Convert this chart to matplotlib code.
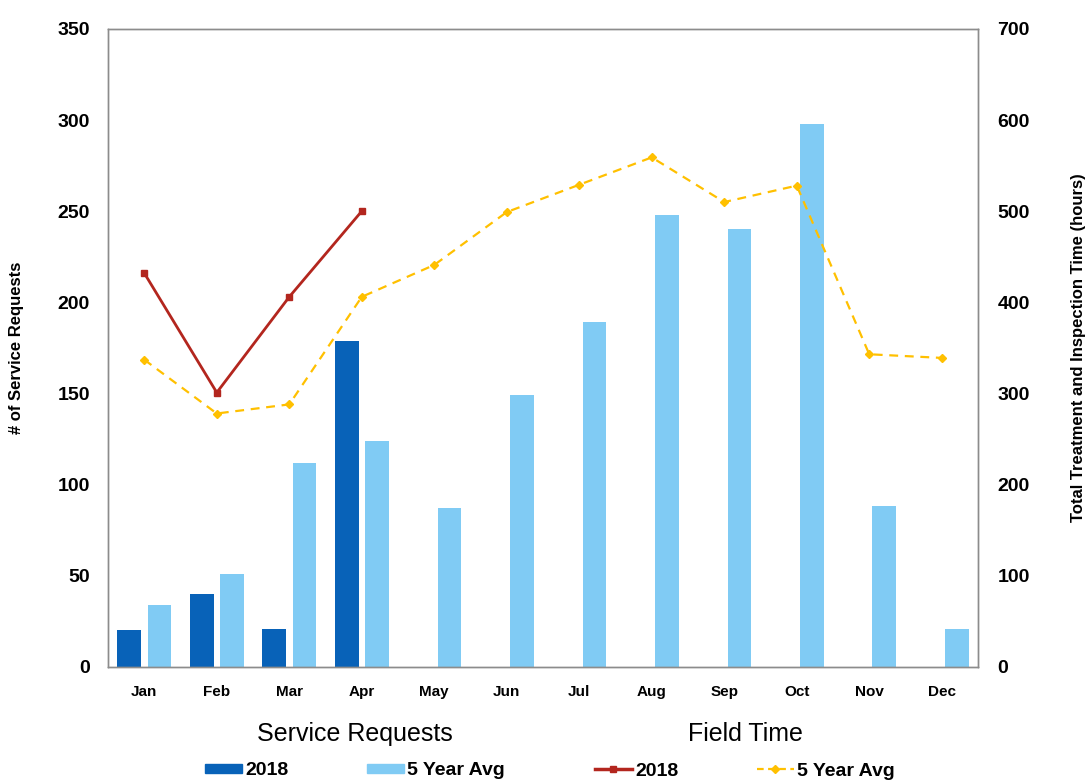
import matplotlib
matplotlib.use("Agg")
import matplotlib.pyplot as plt
import numpy as np
from matplotlib.lines import Line2D
from matplotlib.patches import Patch

plt.rcParams["font.family"] = ["Liberation Sans", "DejaVu Sans"]

months = ["Jan", "Feb", "Mar", "Apr", "May", "Jun", "Jul", "Aug", "Sep", "Oct", "Nov", "Dec"]
# service requests (left axis)
requests_2018 = [20, 40, 21, 179]
requests_5yr = [34, 51, 112, 124, 87, 149, 189, 248, 240, 298, 88, 21]
# field time hours (right axis)
hours_2018 = [432, 301, 406, 500]
hours_5yr = [337, 278, 288, 406, 441, 499, 529, 559, 510, 528, 343, 339]

DARK_BLUE = "#0862b8"
LIGHT_BLUE = "#80cbf4"
RED = "#b3261e"
YELLOW = "#ffc000"

fig = plt.figure(figsize=(10.87, 7.8), dpi=100)
ax = fig.add_axes([0.0994, 0.145, 0.8003, 0.818])
ax2 = ax.twinx()

x = np.arange(len(months))
w = 0.33
ax.bar(x[:len(requests_2018)] - 0.21, requests_2018, w, color=DARK_BLUE, zorder=2)
ax.bar(x + 0.21, requests_5yr, w, color=LIGHT_BLUE, zorder=2)

ax2.plot(x[:len(hours_2018)], hours_2018, color=RED, lw=2, marker="s", ms=5)
ax2.plot(x, hours_5yr, color=YELLOW, lw=1.6, ls=(0, (4, 3)), marker="D", ms=4)

ax.set_xlim(-0.5, 11.5)
ax.set_ylim(0, 350)
ax2.set_ylim(0, 700)
ax.set_yticks(range(0, 351, 50))
ax2.set_yticks(range(0, 701, 100))
ax.set_xticks(x)
ax.set_xticklabels(months)

ax.tick_params(axis="y", length=0, pad=13, labelsize=14)
ax2.tick_params(axis="y", length=0, pad=14, labelsize=14)
ax.tick_params(axis="x", length=0, pad=13, labelsize=11)
for lab in ax.get_yticklabels() + ax2.get_yticklabels() + ax.get_xticklabels():
    lab.set_fontweight("bold")

for a in (ax, ax2):
    for s in a.spines.values():
        s.set_color("#8c8c8c")
        s.set_linewidth(1.0)

ax.set_ylabel("# of Service Requests", fontsize=12, fontweight="bold")
ax.yaxis.set_label_coords(-0.097, 0.5)
ax2.set_ylabel("Total Treatment and Inspection Time (hours)", fontsize=12, fontweight="bold")
ax2.yaxis.set_label_coords(1.107, 0.5)

bar_handles = [Patch(color=DARK_BLUE, label="2018"), Patch(color=LIGHT_BLUE, label="5 Year Avg")]
line_handles = [
    Line2D([], [], color=RED, lw=2.5, marker="s", ms=5, label="2018"),
    Line2D([], [], color=YELLOW, lw=1.6, ls=(0, (3, 2)), marker="D", ms=4, label="5 Year Avg"),
]

common = dict(ncol=2, frameon=False, loc="upper center", prop={"size": 14, "weight": "bold"},
              title_fontsize=18, handlelength=1.9, columnspacing=4.0, handletextpad=0.2,
              borderpad=0.0)
leg1 = fig.legend(handles=bar_handles, title="Service Requests", handleheight=0.35,
                  bbox_to_anchor=(355 / 1087, 1 - 712 / 780), **common)
leg2 = fig.legend(handles=line_handles, title="Field Time",
                  bbox_to_anchor=(745 / 1087, 1 - 712 / 780), **common)
for lg in (leg1, leg2):
    lg.get_title().set_fontweight("normal")
    lg._legend_box.sep = 12

fig.savefig("out.png", dpi=100)
